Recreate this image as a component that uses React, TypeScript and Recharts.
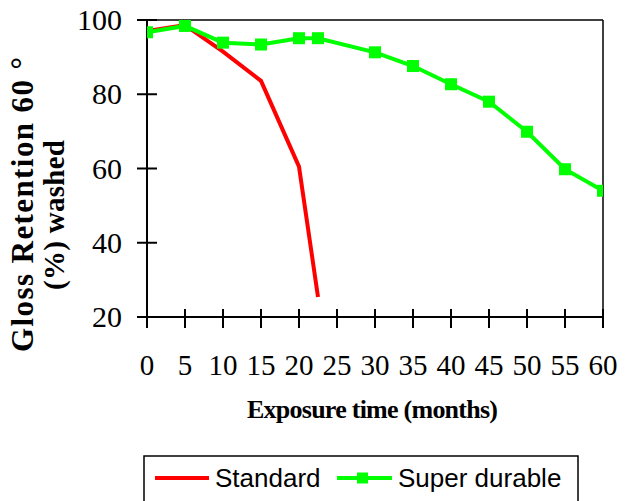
import React from 'react'
import { LineChart, Line, XAxis, YAxis, ReferenceLine } from 'recharts'

// months of exposure
const standardMonths = [0, 5, 10, 15, 20, 22.5]
const standardGloss = [97, 98.6, 91.5, 83.6, 60.5, 25.4]

const durableMonths = [0, 5, 10, 15, 20, 22.5, 30, 35, 40, 45, 50, 55, 60]
const durableGloss = [96.7, 98.4, 93.9, 93.4, 95.1, 95.1, 91.3, 87.6, 82.7, 78.0, 69.9, 59.8, 54.0]

const xTicks = [0, 5, 10, 15, 20, 25, 30, 35, 40, 45, 50, 55, 60]
const yTicks = [20, 40, 60, 80, 100]

const standardData = standardMonths.map((x, i) => ({ x, y: standardGloss[i] }))
const durableData = durableMonths.map((x, i) => ({ x, y: durableGloss[i] }))

// layout
const W = 633
const H = 501
const PLOT_LEFT = 147
const PLOT_BOTTOM = 317
const SERIF = '"Liberation Serif", "Times New Roman", serif'
const SANS = '"Liberation Sans", Arial, sans-serif'

function YTick(props: any) {
  const { y, payload } = props
  return (
    <g>
      <line x1={PLOT_LEFT - 10} x2={PLOT_LEFT + 10} y1={y} y2={y} stroke="#000" strokeWidth={2} />
      <text x={122} y={y + 10} textAnchor="end" fontFamily={SERIF} fontSize={30} fill="#000">
        {payload.value}
      </text>
    </g>
  )
}

function XTick(props: any) {
  const { x, payload } = props
  return (
    <g>
      <line x1={x} x2={x} y1={PLOT_BOTTOM - 8} y2={PLOT_BOTTOM + 11} stroke="#000" strokeWidth={2} />
      <text x={x} y={375} textAnchor="middle" fontFamily={SERIF} fontSize={29} fill="#000">
        {payload.value}
      </text>
    </g>
  )
}

function SquareDot(props: any) {
  const { cx, cy, index } = props
  if (cx == null || cy == null) return null
  return <rect key={`sq-${index}`} x={cx - 6} y={cy - 6} width={12} height={12} fill="#00ff00" />
}

export default function App() {
  return (
    <div style={{ position: 'absolute', left: 0, top: 0, width: W, height: H, overflow: 'hidden', background: '#fff' }}>
      <LineChart width={W} height={H} margin={{ top: 20, right: 30, bottom: 0, left: 0 }}>
        <XAxis
          type="number"
          dataKey="x"
          domain={[0, 60]}
          ticks={xTicks}
          interval={0}
          height={184}
          axisLine={{ stroke: '#000', strokeWidth: 2 }}
          tickLine={false}
          tick={<XTick />}
          allowDataOverflow
        />
        <YAxis
          type="number"
          domain={[20, 100]}
          ticks={yTicks}
          interval={0}
          width={147}
          axisLine={{ stroke: '#000', strokeWidth: 2 }}
          tickLine={false}
          tick={<YTick />}
        />
        <ReferenceLine y={100} stroke="#000" strokeWidth={1.5} />
        <ReferenceLine x={60} stroke="#000" strokeWidth={1.5} />
        <Line
          data={standardData}
          dataKey="y"
          type="linear"
          stroke="#ff0000"
          strokeWidth={4}
          dot={false}
          isAnimationActive={false}
        />
        <Line
          data={durableData}
          dataKey="y"
          type="linear"
          stroke="#00ff00"
          strokeWidth={4}
          dot={<SquareDot />}
          isAnimationActive={false}
        />
      </LineChart>

      {/* axis titles and legend drawn on top */}
      <svg width={W} height={H} style={{ position: 'absolute', left: 0, top: 0, pointerEvents: 'none' }}>
        <text
          x={372.5}
          y={418}
          textAnchor="middle"
          fontFamily={SERIF}
          fontWeight="bold"
          fontSize={26}
          textLength={251}
          lengthAdjust="spacing"
        >
          Exposure time (months)
        </text>
        <text
          transform="translate(33,204.5) rotate(-90)"
          textAnchor="middle"
          fontFamily={SERIF}
          fontWeight="bold"
          fontSize={31}
          textLength={295}
          lengthAdjust="spacing"
        >
          Gloss Retention 60 °
        </text>
        <text
          transform="translate(64,215) rotate(-90)"
          textAnchor="middle"
          fontFamily={SERIF}
          fontWeight="bold"
          fontSize={29}
          textLength={150}
          lengthAdjust="spacing"
        >
          (%) washed
        </text>

        <rect x={144} y={456} width={434} height={70} fill="none" stroke="#000" strokeWidth={1.5} />
        <line x1={155} x2={209} y1={478} y2={478} stroke="#ff0000" strokeWidth={4} />
        <text x={215} y={487} fontFamily={SANS} fontSize={26}>Standard</text>
        <line x1={337} x2={392} y1={478} y2={478} stroke="#00ff00" strokeWidth={4} />
        <rect x={357} y={472.5} width={11} height={11} fill="#00ff00" />
        <text x={398} y={487} fontFamily={SANS} fontSize={26}>Super durable</text>
      </svg>
    </div>
  )
}
